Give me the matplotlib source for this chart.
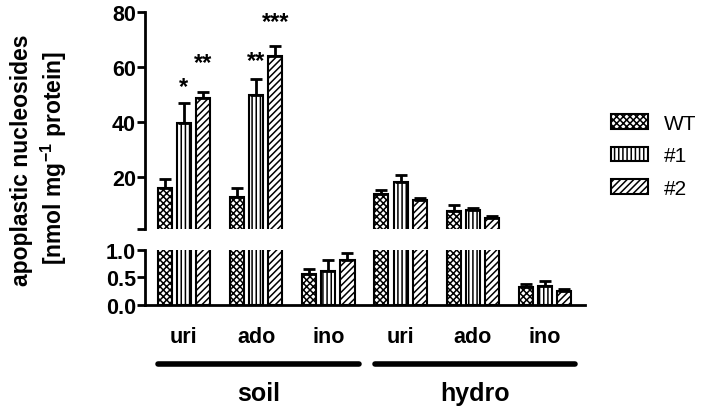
import numpy as np
import matplotlib
matplotlib.use('Agg')
import matplotlib.pyplot as plt
from matplotlib.patches import Patch

plt.rcParams['font.family'] = ['Liberation Sans', 'DejaVu Sans']
plt.rcParams['mathtext.fontset'] = 'custom'
plt.rcParams['mathtext.rm'] = 'Liberation Sans:bold'
plt.rcParams['mathtext.bf'] = 'Liberation Sans:bold'
plt.rcParams['hatch.linewidth'] = 1.1

# Data
categories = ['uri', 'ado', 'ino', 'uri', 'ado', 'ino']
conditions = ['soil', 'hydro']
series = ['WT', '#1', '#2']

wt_mean = [15.9, 12.6, 0.56, 13.8, 7.7, 0.32]
wt_err = [3.3, 3.5, 0.10, 1.6, 2.1, 0.06]
n1_mean = [39.8, 49.8, 0.62, 18.1, 8.1, 0.35]
n1_err = [7.3, 5.8, 0.20, 2.6, 0.5, 0.09]
n2_mean = [48.7, 63.9, 0.82, 11.4, 5.1, 0.25]
n2_err = [2.4, 3.9, 0.12, 0.9, 0.5, 0.04]

# significance marks: (category index, series index, label, label height)
stars = [(0, 1, '*', 53), (0, 2, '**', 61.5), (1, 1, '**', 62.5), (1, 2, '***', 76.5)]

means = [wt_mean, n1_mean, n2_mean]
errs = [wt_err, n1_err, n2_err]
hatches = ['xxxxx', '||||', '/////']

x = np.arange(len(categories))
offsets = [-0.265, 0, 0.265]
width = 0.195

fig = plt.figure(figsize=(7.08, 4.14), dpi=100)
ax_top = fig.add_axes([0.2055, 0.4444, 0.6206, 0.5236])
ax_bot = fig.add_axes([0.2055, 0.2609, 0.6206, 0.1328])

for ax, lo in ((ax_top, 1.0), (ax_bot, 0.0)):
    for i in range(3):
        m = np.array(means[i])
        e = np.array(errs[i])
        keep = m > lo
        xs = (x + offsets[i])[keep]
        ax.bar(xs, m[keep], width, color='white', edgecolor='black',
               linewidth=1.5, hatch=hatches[i], zorder=2)
        ax.errorbar(xs, m[keep], yerr=[np.zeros(keep.sum()), e[keep]],
                    fmt='none', ecolor='black', elinewidth=2, capsize=4, capthick=2, zorder=3)
    ax.set_xlim(-0.53, 5.55)
    for s in ['top', 'right']:
        ax.spines[s].set_visible(False)
    ax.spines['left'].set_linewidth(2)
    ax.spines['bottom'].set_linewidth(2)
    ax.tick_params(axis='y', width=2, length=6, labelsize=15.5, pad=1)

# top segment
ax_top.set_ylim(1, 80)
ax_top.spines['bottom'].set_visible(False)
ax_top.set_xticks([])
ax_top.set_yticks([1, 20, 40, 60, 80])
ax_top.set_yticklabels(['', '20', '40', '60', '80'], fontweight='bold')

for ci, si, lab, yy in stars:
    ax_top.text(x[ci] + offsets[si], yy, lab, ha='center', va='center',
                fontsize=17, fontweight='bold')

# bottom segment
ax_bot.set_ylim(0, 1.0)
ax_bot.set_yticks([0, 0.5, 1.0])
ax_bot.set_yticklabels(['0.0', '0.5', '1.0'], fontweight='bold')
ax_bot.set_xticks(x)
ax_bot.set_xticklabels(categories, fontsize=15.5, fontweight='bold')
ax_bot.tick_params(axis='x', length=0, pad=15)

# group lines and labels
tr = ax_bot.get_xaxis_transform()
for g, name in enumerate(conditions):
    x0 = x[3 * g] - 0.36
    x1 = x[3 * g + 2] + 0.42
    ax_bot.plot([x0, x1], [-1.07, -1.07], color='black', lw=4, transform=tr,
                clip_on=False, solid_capstyle='round')
    ax_bot.text((x0 + x1) / 2, -1.6, name, transform=tr, ha='center', va='center',
                fontsize=18, fontweight='bold')

# y label
fig.text(22 / 708, 1 - 160 / 414, 'apoplastic nucleosides', rotation=90,
         ha='center', va='center', fontsize=16.5, fontweight='bold')
fig.text(54 / 708, 1 - 158 / 414, r'[nmol mg$^{-1}$ protein]', rotation=90,
         ha='center', va='center', fontsize=16.5, fontweight='bold')

# legend
handles = [Patch(facecolor='white', edgecolor='black', linewidth=1.5, hatch=h) for h in hatches]
fig.legend(handles, series, loc='upper left', bbox_to_anchor=(592 / 708, 1 - 96 / 414),
           frameon=False, fontsize=15, handlelength=1.8, handleheight=0.7,
           labelspacing=0.65, handletextpad=0.75)

plt.savefig('out.png', dpi=100)
